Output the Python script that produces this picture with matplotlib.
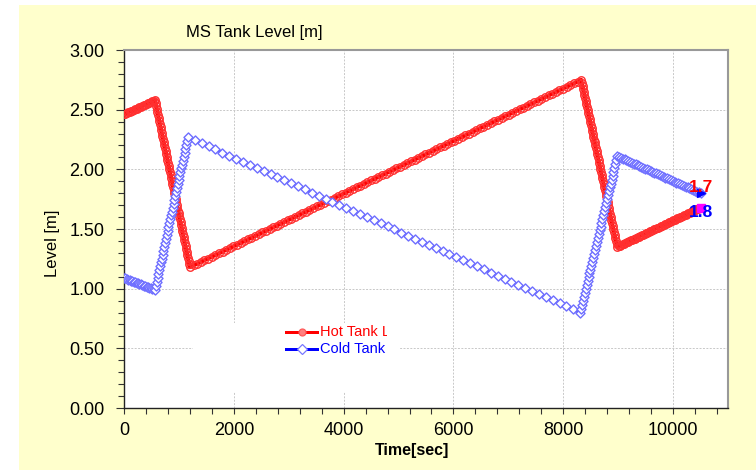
#! /usr/bin/env python3

import numpy as np
import matplotlib
matplotlib.use("Agg")
from matplotlib import pyplot as plt
from matplotlib import patheffects
from matplotlib.colors import to_rgba
from matplotlib.markers import MarkerStyle
from matplotlib.patches import Rectangle
from matplotlib.path import Path
from matplotlib.ticker import MultipleLocator, FormatStrFormatter
from matplotlib.transforms import Affine2D, Bbox, IdentityTransform, TransformedBbox

# tank levels at the corners of each ramp
hot_time = [0, 564, 1200, 8327, 8982, 10500]
hot_level = [2.46, 2.58, 1.18, 2.75, 1.35, 1.68]
cold_time = [0, 564, 1164, 8309, 8982, 10500]
cold_level = [1.09, 0.99, 2.27, 0.80, 2.11, 1.80]

series_names = ["Hot Tank Level", "Cold Tank Level"]
end_labels = ["1.7", "1.8"]
end_label_pos = [1.85, 1.64]

plt.rcParams['font.family'] = ['Liberation Sans', 'DejaVu Sans']


class MarkerTrail(patheffects.AbstractPathEffect):
    """Stamp markers along every segment of a line, gap given in points per segment."""

    def __init__(self, marker, size, gaps, edge, face="none", width=1.0):
        super().__init__()
        self.marker = MarkerStyle(marker)
        self.size = size
        self.gaps = gaps
        self.edge = edge
        self.face = face
        self.width = width

    def draw_path(self, renderer, gc, tpath, affine, rgbFace=None):
        verts = affine.transform(tpath.vertices)
        pts = [verts[0]]
        for p0, p1, gap in zip(verts[:-1], verts[1:], self.gaps):
            step = renderer.points_to_pixels(gap)
            n = max(int(np.hypot(*(p1 - p0)) / step), 1)
            for k in range(1, n + 1):
                pts.append(p0 + (p1 - p0) * k / n)
        mpath = self.marker.get_path()
        mtrans = self.marker.get_transform() + Affine2D().scale(renderer.points_to_pixels(self.size))
        gc0 = renderer.new_gc()
        gc0.copy_properties(gc)
        gc0.set_foreground(self.edge)
        gc0.set_linewidth(self.width)
        face = None if self.face == "none" else to_rgba(self.face)
        renderer.draw_markers(gc0, mpath, mtrans, Path(np.array(pts)), IdentityTransform(), face)
        gc0.restore()


fig = plt.figure(figsize=(7.56, 4.73), dpi=100, facecolor="white")
fig.patches.append(Rectangle((19 / 756, 3 / 473), 737 / 756, 465 / 473,
                             transform=fig.transFigure, facecolor="#FFFFCC", edgecolor="none", zorder=-10))
ax = fig.add_axes([124 / 756, 65 / 473, 604 / 756, 358 / 473])
ax.set_facecolor("white")

px = 0.72  # points per pixel at 100 dpi
ax.plot(hot_time, hot_level, color="#FF0000", lw=4 * px, solid_joinstyle="round", zorder=3,
        path_effects=[patheffects.Normal(),
                      MarkerTrail("o", 7.5 * px, [1.5 * px, 3 * px, 4 * px, 3 * px, 1.5 * px],
                                  "#FF3030", width=1.0)])
ax.plot(cold_time, cold_level, color="#0000FF", lw=3 * px, solid_joinstyle="round", zorder=4,
        path_effects=[patheffects.Normal(),
                      MarkerTrail("D", 6.4 * px, [1.5 * px, 4 * px, 7.5 * px, 4 * px, 2 * px],
                                  "#6E6EFF", face="white", width=1.0)])

# end markers and value labels
ax.plot(hot_time[-1], hot_level[-1], marker="s", ms=6, color="#FF00FF", mec="#FF00FF", zorder=6)
ax.plot(cold_time[-1], cold_level[-1], marker=">", ms=6, color="#0000FF", zorder=6)
ax.text(hot_time[-1], end_label_pos[0], end_labels[0], color="#FF0000", fontsize=12.5,
        fontweight="bold", ha="center", va="center", zorder=7)
ax.text(cold_time[-1], end_label_pos[1], end_labels[1], color="#0000FF", fontsize=12.5,
        fontweight="bold", ha="center", va="center", zorder=7)

ax.set_xlim(0, 11000)
ax.set_ylim(0, 3)
ax.xaxis.set_major_locator(MultipleLocator(2000))
ax.xaxis.set_minor_locator(MultipleLocator(400))
ax.yaxis.set_major_locator(MultipleLocator(0.5))
ax.yaxis.set_minor_locator(MultipleLocator(0.1))
ax.yaxis.set_major_formatter(FormatStrFormatter("%.2f"))
ax.tick_params(which="both", direction="out", length=4, width=0.8, color="#333333",
               labelsize=13, top=False, right=False)
ax.tick_params(axis="y", which="major", length=6, pad=8)
ax.tick_params(axis="x", which="both", pad=6)
ax.grid(True, which="major", color="#C8C8C8", linestyle=(0, (2, 1.5)), linewidth=0.7, zorder=0)
ax.set_axisbelow(True)
for side in ["top", "right"]:
    ax.spines[side].set_color("#999999")
    ax.spines[side].set_linewidth(1.5)
for side in ["left", "bottom"]:
    ax.spines[side].set_color("#222222")
    ax.spines[side].set_linewidth(1.0)

fig.text(254 / 756, 1 - 33 / 473, "MS Tank Level [m]", fontsize=12, ha="center", va="center")
fig.text(52 / 756, 1 - 243 / 473, "Level [m]", fontsize=12, rotation=90, ha="center", va="center")
fig.text(412 / 756, 1 - 450 / 473, "Time[sec]", fontsize=11.5, fontweight="bold",
         ha="center", va="center")

# legend box, drawn by hand so the labels get cut off like the original
ax.add_patch(Rectangle((0.114, 0.045), 0.343, 0.192, transform=ax.transAxes,
                       facecolor="white", edgecolor="none", zorder=2))
clip = TransformedBbox(Bbox([[0.1, 0.0], [0.435, 0.3]]), ax.transAxes)
legend_rows = [(0.212, "#FF0000", "o", "#FF8080", "#FF5A5A"),
               (0.165, "#0000FF", "D", "white", "#7878FF")]
for (y, col, mk, fc, ec), name in zip(legend_rows, series_names):
    ax.plot([0.268, 0.320], [y, y], color=col, lw=3 * px, transform=ax.transAxes, zorder=8)
    ax.plot([0.294], [y], marker=mk, ms=5, mfc=fc, mec=ec, mew=0.9, transform=ax.transAxes, zorder=9)
    t = ax.text(0.324, y, name, color=col, fontsize=10.5, ha="left", va="center",
                transform=ax.transAxes, zorder=9)
    t.set_clip_box(clip)
    t.set_clip_on(True)

fig.savefig("out.png", dpi=100, facecolor=fig.get_facecolor())
